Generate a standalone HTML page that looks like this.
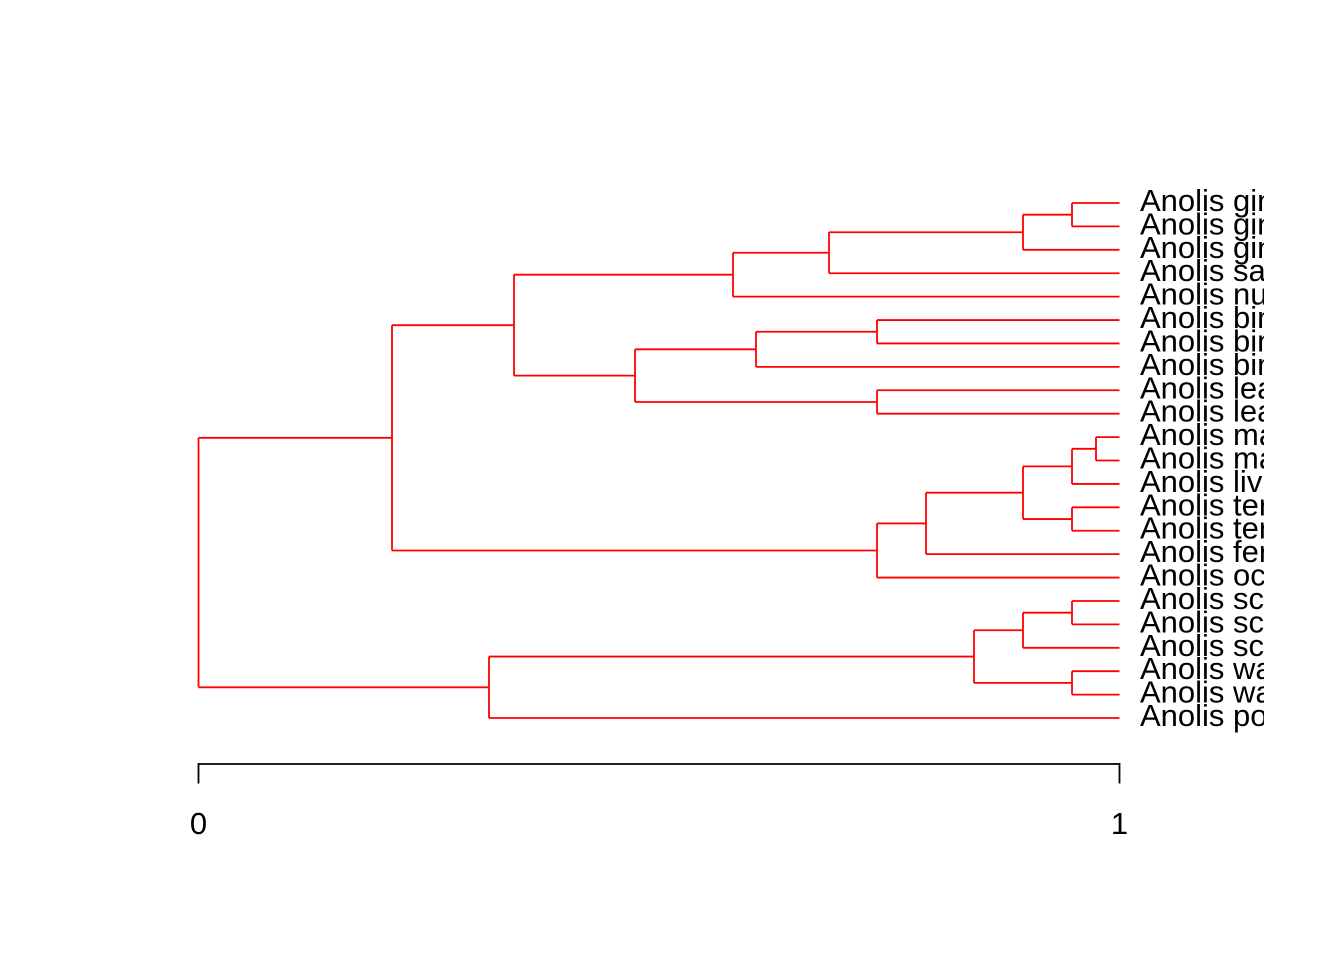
<!DOCTYPE html>
<html><head><meta charset="utf-8"><style>
html,body{margin:0;padding:0;background:#fff;}
svg{display:block;}
text{font-family:"Liberation Sans",Arial,sans-serif;}
</style></head><body>
<svg width="1344" height="960" viewBox="0 0 1344 960" xmlns="http://www.w3.org/2000/svg">
<rect width="1344" height="960" fill="#fff"/>
<defs><clipPath id="c"><rect x="0" y="0" width="1264" height="960"/></clipPath></defs>
<g stroke="#ff0000" stroke-width="1.8" fill="none" stroke-linecap="butt">
<path d="M198.5 437.83V687.3"/>
<path d="M392 325.17V550.49"/>
<path d="M514 274.69V375.65"/>
<path d="M733 252.75V296.64"/>
<path d="M829 232.26V273.23"/>
<path d="M1023 214.7V249.82"/>
<path d="M1072 203V226.41"/>
<path d="M635 349.31V401.99"/>
<path d="M756 331.76V366.87"/>
<path d="M877 320.05V343.46"/>
<path d="M877 390.28V413.69"/>
<path d="M877 523.42V577.56"/>
<path d="M926 492.7V554.15"/>
<path d="M1023 466.36V519.04"/>
<path d="M1072 448.81V483.92"/>
<path d="M1096 437.1V460.51"/>
<path d="M1072 507.33V530.74"/>
<path d="M489 656.57V718.02"/>
<path d="M974 630.23V682.9"/>
<path d="M1023 612.68V647.79"/>
<path d="M1072 600.97V624.38"/>
<path d="M1072 671.2V694.61"/>
<path d="M198.5 437.83H392"/>
<path d="M198.5 687.3H489"/>
<path d="M392 325.17H514"/>
<path d="M392 550.49H877"/>
<path d="M514 274.69H733"/>
<path d="M514 375.65H635"/>
<path d="M733 252.75H829"/>
<path d="M829 232.26H1023"/>
<path d="M1023 214.7H1072"/>
<path d="M635 349.31H756"/>
<path d="M635 401.99H877"/>
<path d="M756 331.76H877"/>
<path d="M877 523.42H926"/>
<path d="M926 492.7H1023"/>
<path d="M1023 466.36H1072"/>
<path d="M1023 519.04H1072"/>
<path d="M1072 448.81H1096"/>
<path d="M489 656.57H974"/>
<path d="M974 630.23H1023"/>
<path d="M974 682.9H1072"/>
<path d="M1023 612.68H1072"/>
<path d="M1072 203H1119.5"/>
<path d="M1072 226.41H1119.5"/>
<path d="M1023 249.82H1119.5"/>
<path d="M829 273.23H1119.5"/>
<path d="M733 296.64H1119.5"/>
<path d="M877 320.05H1119.5"/>
<path d="M877 343.46H1119.5"/>
<path d="M756 366.87H1119.5"/>
<path d="M877 390.28H1119.5"/>
<path d="M877 413.69H1119.5"/>
<path d="M1096 437.1H1119.5"/>
<path d="M1096 460.51H1119.5"/>
<path d="M1072 483.92H1119.5"/>
<path d="M1072 507.33H1119.5"/>
<path d="M1072 530.74H1119.5"/>
<path d="M926 554.15H1119.5"/>
<path d="M877 577.56H1119.5"/>
<path d="M1072 600.97H1119.5"/>
<path d="M1072 624.38H1119.5"/>
<path d="M1023 647.79H1119.5"/>
<path d="M1072 671.2H1119.5"/>
<path d="M1072 694.61H1119.5"/>
<path d="M489 718.02H1119.5"/>
</g>
<g clip-path="url(#c)" font-size="31" fill="#000">
<text x="1140" y="211.0">Anolis gingivinus</text>
<text x="1140" y="234.4">Anolis gingivinus</text>
<text x="1140" y="257.8">Anolis gingivinus</text>
<text x="1140" y="281.2">Anolis sabanus</text>
<text x="1140" y="304.6">Anolis nubilus</text>
<text x="1140" y="328.0">Anolis bimaculatus</text>
<text x="1140" y="351.5">Anolis bimaculatus</text>
<text x="1140" y="374.9">Anolis bimaculatus</text>
<text x="1140" y="398.3">Anolis leachii</text>
<text x="1140" y="421.7">Anolis leachii</text>
<text x="1140" y="445.1">Anolis marmoratus</text>
<text x="1140" y="468.5">Anolis marmoratus</text>
<text x="1140" y="491.9">Anolis lividus</text>
<text x="1140" y="515.3">Anolis terraealtae</text>
<text x="1140" y="538.7">Anolis terraealtae</text>
<text x="1140" y="562.2">Anolis ferreus</text>
<text x="1140" y="585.6">Anolis oculatus</text>
<text x="1140" y="609.0">Anolis schwartzi</text>
<text x="1140" y="632.4">Anolis schwartzi</text>
<text x="1140" y="655.8">Anolis schwartzi</text>
<text x="1140" y="679.2">Anolis wattsi</text>
<text x="1140" y="702.6">Anolis wattsi</text>
<text x="1140" y="726.0">Anolis pogus</text>
</g>
<g stroke="#000" stroke-width="1.8" fill="none">
<path d="M198.5 764H1119.5"/>
<path d="M198.5 763V783.5"/>
<path d="M1119.5 763V783.5"/>
</g>
<g font-size="31" fill="#000" text-anchor="middle">
<text x="198.5" y="834">0</text>
<text x="1119.5" y="834">1</text>
</g>
</svg>
</body></html>
